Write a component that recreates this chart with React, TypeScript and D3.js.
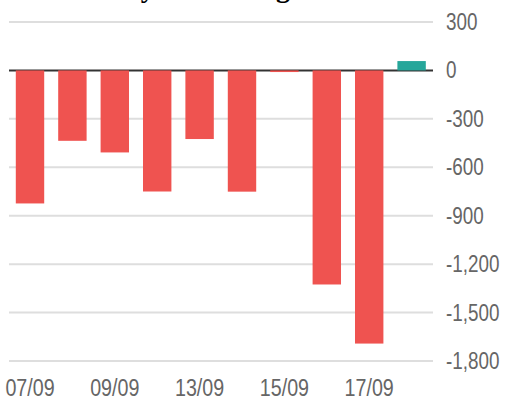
import React from 'react';
import * as d3 from 'd3';

const dates = ['07/09', '08/09', '09/09', '10/09', '13/09', '14/09', '15/09', '16/09', '17/09', '20/09'];
const netValues = [-824, -436, -508, -750, -425, -751, -10, -1326, -1692, 58];
const yTicks = [300, 0, -300, -600, -900, -1200, -1500, -1800];

const W = 506;
const H = 405;
const font = '"Liberation Sans", Arial, sans-serif';
const squeeze = 0.82; // narrow look of the original labels

const App = () => {
  const x = d3.scaleBand<string>()
    .domain(dates)
    .range([8.8, 432.8])
    .paddingInner(0.33)
    .paddingOuter(0.165);

  const y = d3.scaleLinear()
    .domain([-1800, 300])
    .range([361, 22]);

  const fmt = (v: number) => d3.format(',')(v).replace('\u2212', '-');

  return (
    <svg width={W} height={H} style={{ position: 'absolute', left: 0, top: 0, background: '#fff' }}>
      {/* title, mostly cut off at the top */}
      <text x={91} y={-3.5} fontFamily='"Liberation Serif", "Times New Roman", serif' fontWeight="bold" fontSize={28} fill="#000">
        Daily Net Change
      </text>

      {yTicks.map(t => (
        <g key={t}>
          {t !== 0 && (
            <line x1={9} x2={433} y1={y(t)} y2={y(t)} stroke="#dedede" strokeWidth={2} />
          )}
          <text transform={`translate(446,${y(t) + 8}) scale(${squeeze},1)`} fontFamily={font} fontSize={23} fill="#666">
            {fmt(t)}
          </text>
        </g>
      ))}

      <line x1={9} x2={433} y1={y(0)} y2={y(0)} stroke="#333" strokeWidth={2} />

      {dates.map((d, i) => {
        const v = netValues[i];
        const y0 = y(Math.max(0, v));
        const y1 = y(Math.min(0, v));
        return (
          <rect
            key={d}
            x={x(d)}
            y={y0}
            width={x.bandwidth()}
            height={Math.max(1.5, y1 - y0)}
            fill={v >= 0 ? '#26a69a' : '#ef5350'}
          />
        );
      })}

      {dates.map((d, i) => i % 2 === 0 ? (
        <text
          key={d}
          transform={`translate(${(x(d) ?? 0) + x.bandwidth() / 2},396) scale(${squeeze},1)`}
          textAnchor="middle"
          fontFamily={font}
          fontSize={24}
          fill="#666"
        >
          {d}
        </text>
      ) : null)}
    </svg>
  );
};

export default App;
